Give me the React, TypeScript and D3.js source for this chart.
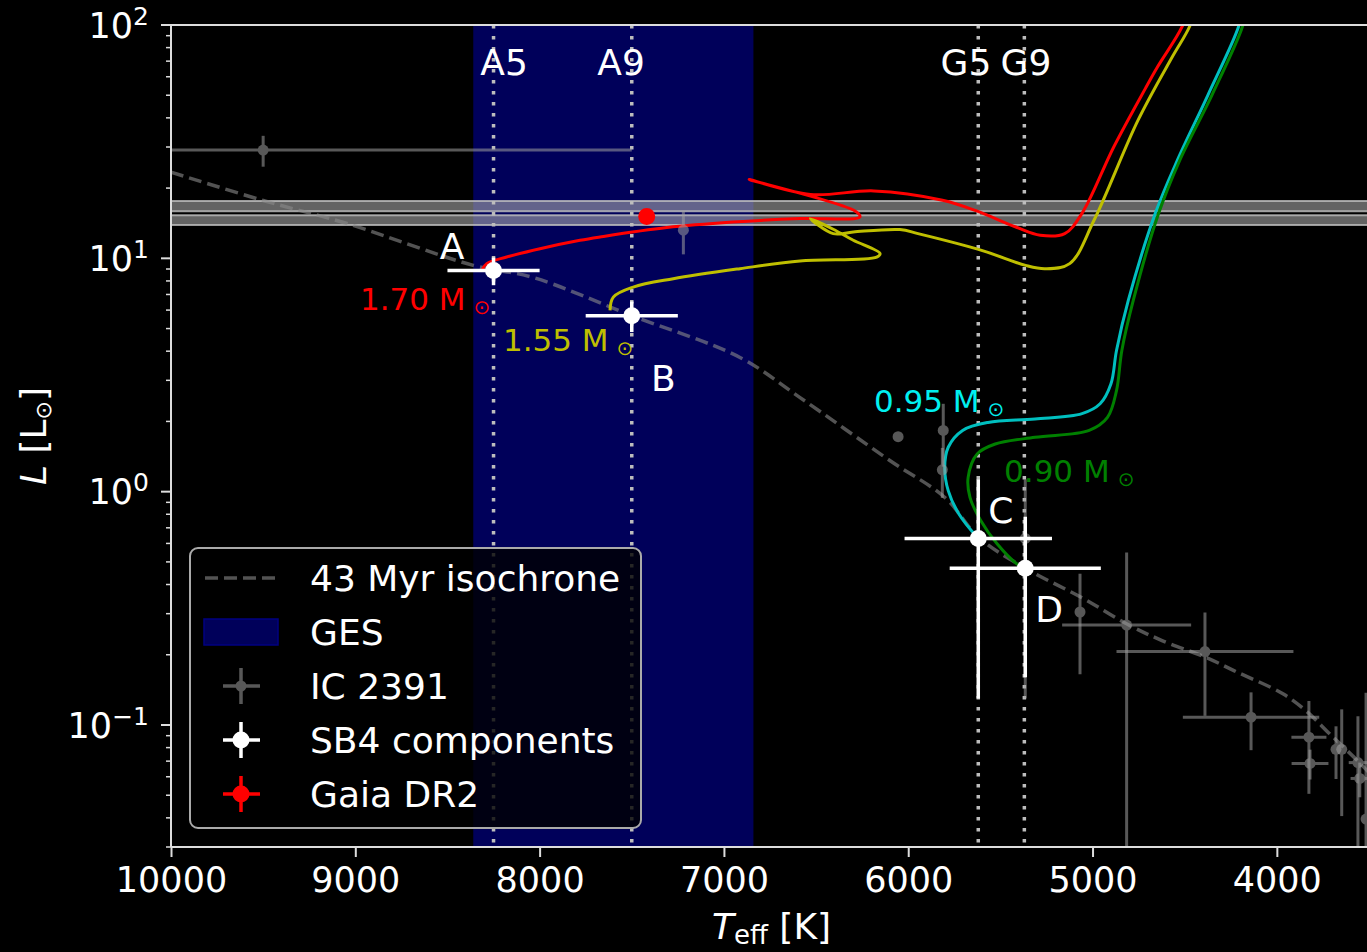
import React, { useEffect, useRef } from 'react';
import * as d3 from 'd3';

const WIDTH = 1367;
const HEIGHT = 952;
const FONT = '"DejaVu Sans", sans-serif';

// axes
const xDomain: [number, number] = [10000, 3500];
const yDomain: [number, number] = [0.03, 100];
const xTicks = [10000, 9000, 8000, 7000, 6000, 5000, 4000];
const yMajor = [0.1, 1, 10, 100];
const yExponents = ['\u22121', '0', '1', '2'];

// GES Teff range and luminosity bands
const gesRange: [number, number] = [8360, 6840];
const lumBands: [number, number][] = [[15.9, 17.6], [13.9, 15.3]];

// spectral types: line Teff, label Teff
const spectralTypes: [string, number, number][] = [
  ['A5', 8250, 8193],
  ['A9', 7500, 7558],
  ['G5', 5620, 5687],
  ['G9', 5370, 5361],
];
const spectralLabelL = 61;

// 43 Myr isochrone [Teff, L]
const isochrone: [number, number][] = [
  [10000, 23.4], [9500, 17.7], [9045, 14.1], [8360, 9.33], [8036, 8.28], [7500, 5.68],
  [6913, 3.76], [6587, 2.53], [6100, 1.36], [5800, 0.942], [5616, 0.635], [5361, 0.468],
  [5057, 0.351], [4813, 0.271], [4623, 0.23], [4379, 0.194], [4233, 0.171], [3967, 0.136],
  [3842, 0.115], [3712, 0.0914], [3544, 0.068], [3480, 0.06],
];

// evolutionary tracks [Teff, L]
const track170: [number, number][] = [
  [8314, 8.88], [8287, 9.49], [8179, 10.13], [7998, 11.0], [7781, 11.95], [7672, 12.35],
  [7310, 13.55], [6951, 14.31], [6587, 14.81], [6262, 15.04], [6289, 15.96], [6863, 21.77],
  [6531, 18.77], [6186, 19.45], [5814, 17.74], [5629, 15.96], [5416, 13.62], [5284, 12.55],
  [5151, 12.76], [5058, 15.55], [4885, 30.0], [4713, 53.5], [4647, 66.2], [4514, 98.3], [4470, 125],
];
const track155: [number, number][] = [
  [7618, 5.98], [7600, 6.82], [7492, 7.53], [7275, 8.18], [6913, 9.03], [6587, 9.74],
  [6171, 10.13], [6153, 10.48], [6298, 11.95], [6407, 13.32], [6531, 14.81], [6407, 12.76],
  [6298, 12.97], [6045, 13.28], [5947, 12.76], [5602, 10.82], [5363, 9.33], [5258, 9.03],
  [5124, 9.49], [4992, 14.56], [4753, 39.1], [4567, 73.1], [4474, 98.3], [4440, 120],
];
const track095: [number, number][] = [
  [4190, 115], [4208, 98.3], [4374, 50.1], [4540, 26.3], [4660, 15.55], [4806, 6.6],
  [4870, 4.03], [4900, 2.9], [4959, 2.38], [5057, 2.16], [5312, 2.05], [5567, 1.98],
  [5705, 1.83], [5783, 1.55], [5802, 1.27], [5783, 1.01], [5725, 0.802], [5626, 0.637],
];
const track090: [number, number][] = [
  [4170, 115], [4187, 98.3], [4352, 50.1], [4527, 26.3], [4645, 15.3], [4779, 6.6],
  [4841, 4.03], [4870, 2.71], [4919, 2.08], [5018, 1.83], [5312, 1.71], [5528, 1.6],
  [5626, 1.45], [5675, 1.15], [5665, 0.945], [5606, 0.751], [5518, 0.598], [5410, 0.49], [5371, 0.473],
];

// track labels: text, Teff, L (start of text, baseline), colour
const trackLabels: [string, number, number, string][] = [
  ['1.70 M', 8975, 5.98, '#ff0000'],
  ['1.55 M', 8199, 3.99, '#bfbf00'],
  ['0.95 M', 6186, 2.2, '#00f0f0'],
  ['0.90 M', 5480, 1.096, '#008000'],
];
const trackColors = ['#ff0000', '#bfbf00', '#00bfbf', '#008000'];

// IC 2391 members [Teff, L, dTeff, dL]
const ic2391: [number, number, number, number][] = [
  [9500, 29.1, 2000, 4.4],
  [7220, 13.2, 0, 2.8],
  [6055, 1.72, 0, 0],
  [5810, 1.83, 0, 0.55],
  [5815, 1.24, 0, 0.3],
  [5365, 0.63, 0, 0.5],
  [5068, 0.305, 0, 0.14],
  [4815, 0.268, 350, 0.28],
  [4390, 0.2065, 480, 0.097],
  [4140, 0.108, 370, 0.03],
  [3826, 0.0887, 95, 0.038],
  [3820, 0.0684, 100, 0.01],
  [3679, 0.0787, 0, 0.02],
  [3648, 0.0787, 0, 0.038],
  [3560, 0.069, 50, 0.04],
  [3550, 0.059, 50, 0.01],
  [3516, 0.0395, 0, 0.098],
];

// SB4 components [name, Teff, L, dTeff, dL]
const sb4: [string, number, number, number, number][] = [
  ['A', 8250, 8.87, 250, 1.2],
  ['B', 7500, 5.68, 250, 0.85],
  ['C', 5620, 0.63, 400, 0.5],
  ['D', 5365, 0.47, 410, 0.31],
];
// component letter positions [name, Teff, L]
const sb4Labels: [string, number, number][] = [
  ['A', 8475, 9.9], ['B', 7328, 2.71], ['C', 5497, 0.736], ['D', 5236, 0.277],
];

// Gaia DR2 [Teff, L]
const gaia: [number, number][] = [[7419, 15.1]];

const legendItems = ['43 Myr isochrone', 'GES', 'IC 2391', 'SB4 components', 'Gaia DR2'];

export default function App() {
  const svgRef = useRef<SVGSVGElement>(null);

  useEffect(() => {
    if (!svgRef.current) return;
    const svg = d3.select(svgRef.current);
    svg.selectAll('*').remove();

    const x = d3.scaleLinear().domain(xDomain).range([171, 1369]);
    const y = d3.scaleLog().domain(yDomain).range([847, 25]);
    const [x0, x1] = x.range();
    const [yb, yt] = y.range();

    svg.append('rect').attr('width', WIDTH).attr('height', HEIGHT).attr('fill', '#000');

    svg.append('defs').append('clipPath').attr('id', 'plot-clip')
      .append('rect').attr('x', x0).attr('y', yt).attr('width', x1 - x0).attr('height', yb - yt);

    const plot = svg.append('g').attr('clip-path', 'url(#plot-clip)');

    // GES band
    plot.append('rect')
      .attr('x', x(gesRange[0])).attr('width', x(gesRange[1]) - x(gesRange[0]))
      .attr('y', yt).attr('height', yb - yt)
      .attr('fill', '#000080').attr('fill-opacity', 0.7);

    // luminosity bands
    lumBands.forEach(([lo, hi]) => {
      plot.append('rect')
        .attr('x', x0 - 5).attr('width', x1 - x0 + 10)
        .attr('y', y(hi)).attr('height', y(lo) - y(hi))
        .attr('fill', '#b4b4b4').attr('fill-opacity', 0.55);
      [hi, lo].forEach(v => {
        plot.append('line')
          .attr('x1', x0).attr('x2', x1).attr('y1', y(v)).attr('y2', y(v))
          .attr('stroke', '#c0c0c0').attr('stroke-opacity', 0.8).attr('stroke-width', 2);
      });
    });

    // spectral type lines
    spectralTypes.forEach(([, t]) => {
      plot.append('line')
        .attr('x1', x(t)).attr('x2', x(t)).attr('y1', yt).attr('y2', yb)
        .attr('stroke', '#bdbdbd').attr('stroke-width', 3.5)
        .attr('stroke-dasharray', '3.5 7.5');
    });

    const line = d3.line<[number, number]>()
      .x(d => x(d[0]))
      .y(d => y(d[1]))
      .curve(d3.curveCatmullRom.alpha(0.5));

    // isochrone
    plot.append('path')
      .attr('d', line(isochrone) || '')
      .attr('fill', 'none')
      .attr('stroke', '#8a8a8a').attr('stroke-opacity', 0.6)
      .attr('stroke-width', 3.5).attr('stroke-dasharray', '13 6');

    // tracks
    [track170, track155, track095, track090].forEach((tr, i) => {
      plot.append('path')
        .attr('d', line(tr) || '')
        .attr('fill', 'none')
        .attr('stroke', trackColors[i])
        .attr('stroke-width', 3)
        .attr('stroke-linejoin', 'round');
    });

    function errorbar(group: any, t: number, l: number, dt: number, dl: number,
      color: string, opacity: number, r: number, width: number) {
      const g = group.append('g').attr('opacity', opacity);
      if (dt > 0) {
        g.append('line')
          .attr('x1', x(t + dt)).attr('x2', x(t - dt)).attr('y1', y(l)).attr('y2', y(l))
          .attr('stroke', color).attr('stroke-width', width);
      }
      if (dl > 0) {
        g.append('line')
          .attr('x1', x(t)).attr('x2', x(t))
          .attr('y1', y(l + dl)).attr('y2', y(Math.max(l - dl, 0.001)))
          .attr('stroke', color).attr('stroke-width', width);
      }
      g.append('circle').attr('cx', x(t)).attr('cy', y(l)).attr('r', r).attr('fill', color);
    }

    ic2391.forEach(([t, l, dt, dl]) => errorbar(plot, t, l, dt, dl, '#a0a0a0', 0.55, 5.5, 3));
    sb4.forEach(([, t, l, dt, dl]) => errorbar(plot, t, l, dt, dl, '#ffffff', 1, 8.5, 3.5));
    gaia.forEach(([t, l]) => errorbar(plot, t, l, 0, 0, '#ff0000', 1, 8.5, 3.5));

    // text in plot
    const txt = svg.append('g').attr('font-family', FONT);
    spectralTypes.forEach(([name, , lt]) => {
      txt.append('text').attr('x', x(lt)).attr('y', y(spectralLabelL))
        .attr('text-anchor', 'middle').attr('font-size', 36).attr('fill', '#fff').text(name);
    });
    sb4Labels.forEach(([name, t, l]) => {
      txt.append('text').attr('x', x(t)).attr('y', y(l))
        .attr('text-anchor', 'middle').attr('font-size', 36).attr('fill', '#fff').text(name);
    });
    trackLabels.forEach(([label, t, l, color]) => {
      const tx = txt.append('text').attr('x', x(t)).attr('y', y(l))
        .attr('font-size', 31).attr('fill', color);
      tx.append('tspan').text(label);
      tx.append('tspan').attr('dx', 8).attr('dy', 4).attr('font-size', 20).text('\u2299');
    });

    // axes
    const axisColor = '#dddddd';
    svg.append('line').attr('x1', x0).attr('x2', x1 + 5).attr('y1', yt).attr('y2', yt)
      .attr('stroke', axisColor).attr('stroke-width', 2);
    svg.append('line').attr('x1', x0).attr('x2', x1 + 5).attr('y1', yb).attr('y2', yb)
      .attr('stroke', axisColor).attr('stroke-width', 2);
    svg.append('line').attr('x1', x0).attr('x2', x0).attr('y1', yt).attr('y2', yb)
      .attr('stroke', axisColor).attr('stroke-width', 2);

    const xAxis = svg.append('g').attr('transform', `translate(0,${yb})`)
      .call(d3.axisBottom(x).tickValues(xTicks).tickSize(10).tickPadding(10).tickFormat(d3.format('d')));
    xAxis.select('.domain').remove();
    xAxis.selectAll('line').attr('stroke', axisColor).attr('stroke-width', 2);
    xAxis.selectAll('text').attr('fill', '#fff').attr('font-size', 35).attr('font-family', FONT);

    const yAxis = svg.append('g');
    const minors: number[] = [];
    for (let d = -2; d <= 1; d++) {
      for (let k = 2; k <= 9; k++) {
        const v = k * Math.pow(10, d);
        if (v >= yDomain[0] && v <= yDomain[1]) minors.push(v);
      }
    }
    minors.forEach(v => {
      yAxis.append('line').attr('x1', x0 - 5).attr('x2', x0).attr('y1', y(v)).attr('y2', y(v))
        .attr('stroke', axisColor).attr('stroke-width', 1.5);
    });
    yMajor.forEach((v, i) => {
      yAxis.append('line').attr('x1', x0 - 10).attr('x2', x0).attr('y1', y(v)).attr('y2', y(v))
        .attr('stroke', axisColor).attr('stroke-width', 2);
      const t = yAxis.append('text').attr('x', 149).attr('y', y(v)).attr('dy', '0.36em')
        .attr('text-anchor', 'end').attr('fill', '#fff').attr('font-family', FONT).attr('font-size', 35);
      t.append('tspan').text('10');
      t.append('tspan').attr('dy', -13).attr('font-size', 25).text(yExponents[i]);
    });

    // axis labels
    const xl = svg.append('text').attr('x', 712).attr('y', 939)
      .attr('fill', '#fff').attr('font-family', FONT).attr('font-size', 36);
    xl.append('tspan').attr('font-style', 'italic').text('T');
    xl.append('tspan').attr('dy', 5).attr('font-size', 26).text('eff');
    xl.append('tspan').attr('dy', -5).text(' [K]');

    const yl = svg.append('text').attr('transform', `translate(46,${(yt + yb) / 2}) rotate(-90)`)
      .attr('text-anchor', 'middle').attr('fill', '#fff').attr('font-family', FONT).attr('font-size', 36);
    yl.append('tspan').attr('font-style', 'italic').text('L');
    yl.append('tspan').text(' [L');
    yl.append('tspan').attr('dy', 5).attr('font-size', 22).text('\u2299');
    yl.append('tspan').attr('dy', -5).text(']');

    // legend
    const lg = svg.append('g').attr('font-family', FONT);
    lg.append('rect').attr('x', 190).attr('y', 548).attr('width', 451).attr('height', 280).attr('rx', 8)
      .attr('fill', '#000').attr('fill-opacity', 0.8).attr('stroke', '#aaaaaa').attr('stroke-width', 2);
    const rowY = (i: number) => 578 + i * 54;
    legendItems.forEach((label, i) => {
      lg.append('text').attr('x', 310).attr('y', rowY(i)).attr('dy', '0.36em')
        .attr('fill', '#fff').attr('font-size', 36).text(label);
    });
    lg.append('line').attr('x1', 205).attr('x2', 277).attr('y1', rowY(0)).attr('y2', rowY(0))
      .attr('stroke', '#8a8a8a').attr('stroke-opacity', 0.6).attr('stroke-width', 3.5).attr('stroke-dasharray', '13 6');
    lg.append('rect').attr('x', 204).attr('y', rowY(1) - 13).attr('width', 74).attr('height', 26)
      .attr('fill', '#000080').attr('fill-opacity', 0.7).attr('stroke', '#000080').attr('stroke-width', 1.5);
    const handles: [string, number, number][] = [['#a0a0a0', 0.55, 5.5], ['#ffffff', 1, 8.5], ['#ff0000', 1, 8.5]];
    handles.forEach(([color, op, r], j) => {
      const cy = rowY(j + 2);
      const g = lg.append('g').attr('opacity', op);
      g.append('line').attr('x1', 223).attr('x2', 260).attr('y1', cy).attr('y2', cy).attr('stroke', color).attr('stroke-width', 3.5);
      g.append('line').attr('x1', 241).attr('x2', 241).attr('y1', cy - 18).attr('y2', cy + 18).attr('stroke', color).attr('stroke-width', 3.5);
      g.append('circle').attr('cx', 241).attr('cy', cy).attr('r', r).attr('fill', color);
    });
  }, []);

  return (
    <svg ref={svgRef} width={WIDTH} height={HEIGHT}
      style={{ position: 'absolute', left: 0, top: 0, display: 'block', background: '#000' }} />
  );
}
